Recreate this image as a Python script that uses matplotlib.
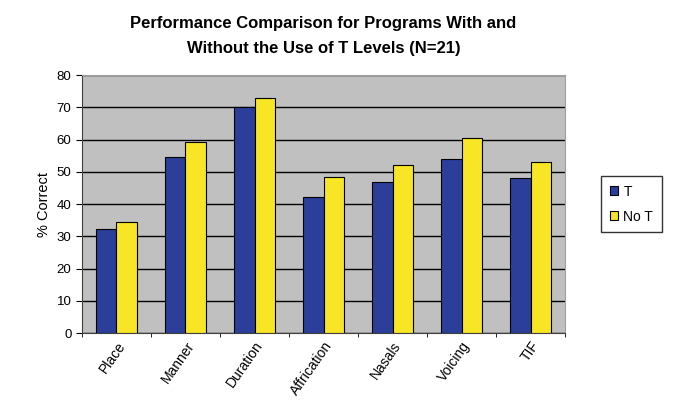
import matplotlib
matplotlib.use("Agg")
import matplotlib.pyplot as plt
import numpy as np

categories = ["Place", "Manner", "Duration", "Affrication", "Nasals", "Voicing", "TIF"]
t_vals = [32.2, 54.7, 70.2, 42.1, 46.9, 54.0, 48.2]
not_vals = [34.4, 59.3, 72.8, 48.5, 52.1, 60.4, 53.1]
yticks = [0, 10, 20, 30, 40, 50, 60, 70, 80]

plt.rcParams['font.family'] = ['Liberation Sans', 'DejaVu Sans']

fig = plt.figure(figsize=(6.77, 4.17), dpi=100)
ax = fig.add_axes([0.121, 0.201, 0.714, 0.619])
ax.set_facecolor('#c0c0c0')

x = np.arange(len(categories))
w = 0.30
ax.bar(x - w/2, t_vals, width=w, color='#2b3f9a', edgecolor='black', linewidth=0.8, label='T', zorder=3)
ax.bar(x + w/2, not_vals, width=w, color='#f7e526', edgecolor='black', linewidth=0.8, label='No T', zorder=3)

ax.set_xlim(-0.5, len(categories) - 0.5)
ax.set_ylim(0, 80)
ax.set_yticks(yticks)
ax.yaxis.grid(True, color='black', linewidth=1.0, zorder=0)
ax.set_axisbelow(True)

ax.set_xticks(x)
ax.set_xticklabels(categories, rotation=55, ha='right', rotation_mode='anchor', fontsize=10)
ax.tick_params(axis='x', length=0, pad=4)
ax.set_xticks(np.arange(-0.5, len(categories)), minor=True)
ax.tick_params(axis='x', which='minor', length=3)
ax.tick_params(axis='y', labelsize=9.5, length=4)

for s in ['top', 'right']:
    ax.spines[s].set_color('#a0a0a0')
for s in ['left', 'bottom']:
    ax.spines[s].set_color('#404040')

ax.set_ylabel('% Correct', fontsize=10.5)
ax.set_title('Performance Comparison for Programs With and\nWithout the Use of T Levels (N=21)',
             fontsize=12, fontweight='bold', pad=16, linespacing=1.8)

leg = ax.legend(loc='center left', bbox_to_anchor=(1.06, 0.5), fontsize=10, frameon=True,
                fancybox=False, edgecolor='black', handlelength=0.6, handleheight=0.6,
                handletextpad=0.4, borderpad=0.6, labelspacing=0.8)

fig.savefig('out.png', dpi=100)
